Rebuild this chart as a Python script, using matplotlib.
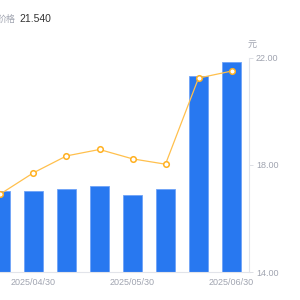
import matplotlib
matplotlib.use("Agg")
import matplotlib.pyplot as plt

plt.rcParams['font.family'] = ['Liberation Sans', 'Noto Sans CJK SC', 'DejaVu Sans']

# valores
fechas = ['2025/03/31', '2025/04/30', '2025/05/09', '2025/05/16', '2025/05/30',
          '2025/06/06', '2025/06/13', '2025/06/30']
barras = [17.01, 17.04, 17.11, 17.20, 16.86, 17.11, 21.31, 21.84]
linea = [16.92, 17.71, 18.34, 18.58, 18.23, 18.03, 21.25, 21.51]
etiquetas_x = {1: '2025/04/30', 4: '2025/05/30', 7: '2025/06/30'}
y_ticks = [14, 18, 22]
valor_titulo = '21.540'

azul = '#2878F0'
naranja = '#FFC04D'
gris = '#A0A4B0'

fig = plt.figure(figsize=(3, 3), dpi=100)
ax = fig.add_axes([0, 28 / 300, 249 / 300, 214 / 300])

x = list(range(len(barras)))
ax.bar(x, [b - 14 for b in barras], bottom=14, width=0.59, color=azul,
       edgecolor='#6FA3F7', linewidth=0.6, zorder=2)
ax.plot(x, linea, color=naranja, linewidth=0.9, marker='o', markersize=4,
        markerfacecolor='white', markeredgecolor='#FFB020', markeredgewidth=1.1, zorder=3)

ax.set_xlim(-0.015, 7.53)
ax.set_ylim(14, 22)

ax.yaxis.tick_right()
ax.set_yticks(y_ticks)
ax.set_yticklabels([f'{v:.2f}' for v in y_ticks])
ax.tick_params(axis='y', direction='out', length=3, width=0.6, color='#D8DAE0',
               labelsize=6.5, labelcolor=gris, pad=2)

ax.set_xticks(list(etiquetas_x.keys()))
ax.set_xticklabels(list(etiquetas_x.values()))
ax.tick_params(axis='x', length=0, labelsize=6.5, labelcolor=gris, pad=4)

for s in ['top', 'left']:
    ax.spines[s].set_visible(False)
ax.spines['right'].set_color('#E2E4EA')
ax.spines['right'].set_linewidth(0.8)
ax.spines['bottom'].set_color('#E2E4EA')
ax.spines['bottom'].set_linewidth(0.8)

fig.text(252 / 300, 1 - 45 / 300, '元', fontsize=6.5, color=gris,
         ha='center', va='center', family=['Noto Sans CJK SC', 'DejaVu Sans'])
fig.text(16 / 300, 1 - 19 / 300, '价格', fontsize=6.5, color=gris,
         ha='right', va='center', family=['Noto Sans CJK SC', 'DejaVu Sans'])
fig.text(19 / 300, 1 - 19 / 300, valor_titulo, fontsize=7.5, color='#333333',
         ha='left', va='center')

fig.savefig('out.png', dpi=100)
